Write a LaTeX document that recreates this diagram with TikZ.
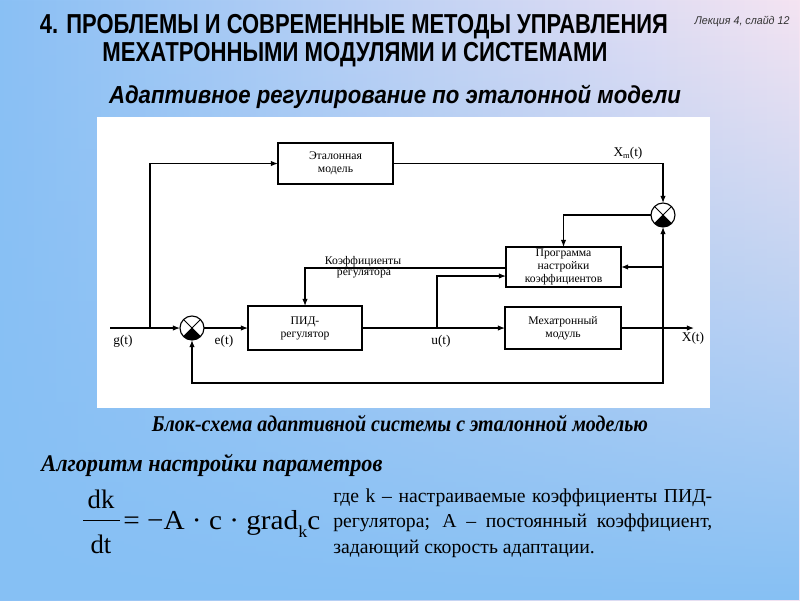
\documentclass[tikz,border=0pt]{standalone}
\usepackage{fontspec}
\usepackage{graphicx}
\setmainfont{Liberation Serif}
\newfontfamily\sansf{Liberation Sans}
\usetikzlibrary{arrows.meta,fadings,calc}
\definecolor{bgL}{HTML}{8AC0F5}
\definecolor{bgR}{HTML}{F5E4F2}
\definecolor{bgB}{HTML}{86C0F4}
\newlength\pxu
\setlength\pxu{0.025cm}
\begin{document}
\begin{tikzpicture}[x=0.025cm,y=-0.025cm,
  wire/.style={line width=0.8pt},
  conn/.style={wire,-{Latex[length=5pt,width=3.8pt]}},
  blk/.style={draw,line width=0.75pt,inner sep=0pt,outer sep=0pt,align=center,font=\fontsize{8.3}{9.3}\selectfont},
  sumj/.style={circle,draw,line width=0.8pt,minimum size=0.6cm,inner sep=0pt,outer sep=0pt},
  lbl/.style={font=\fontsize{9.5}{11}\selectfont,inner sep=0pt},
  small/.style={font=\fontsize{8.3}{9}\selectfont,inner sep=0pt}]

\useasboundingbox (0,0) rectangle (800,600);
% background
\fill[left color=bgL, right color=bgR] (0,0) rectangle (800,600);
\fill[bgB, path fading=north] (0,0) rectangle (800,600);
\fill[white] (97,117) rectangle (710,408);

% titles
\node[font=\sansf\bfseries\fontsize{19.5}{22}\selectfont] (t1) at (354,27) {\resizebox{628\pxu}{\height}{4. ПРОБЛЕМЫ И СОВРЕМЕННЫЕ МЕТОДЫ УПРАВЛЕНИЯ}};
\node[font=\sansf\bfseries\fontsize{19.5}{22}\selectfont] (t2) at (355,55) {\resizebox{505\pxu}{\height}{МЕХАТРОННЫМИ МОДУЛЯМИ И СИСТЕМАМИ}};
\node[font=\sansf\itshape\fontsize{8}{9}\selectfont, text=black!80] (lec) at (742,21) {\resizebox{95\pxu}{\height}{Лекция 4, слайд 12}};
\node[font=\sansf\bfseries\itshape\fontsize{17.5}{20}\selectfont] (sub) at (395,97) {\resizebox{572\pxu}{\height}{Адаптивное регулирование по эталонной модели}};

% blocks
\node[blk,minimum width=2.875cm,minimum height=1.025cm] (etal) at (335.5,163.5) {Эталонная\\модель};
\node[blk,minimum width=2.875cm,minimum height=1.0cm] (prog) at (563.5,267) {Программа\\настройки\\коэффициентов};
\node[blk,minimum width=2.85cm,minimum height=1.1cm] (pid) at (305,328) {ПИД-\\регулятор};
\node[blk,minimum width=2.9cm,minimum height=1.05cm] (mech) at (563,328) {Мехатронный\\модуль};
\node[sumj] (s1) at (192,328) {};
\node[sumj] (s2) at (663,215) {};

\foreach \sj in {s1,s2}{
  \fill (\sj.center) \foreach \a in {-135,-125,...,-45}{ -- (\sj.\a)} -- cycle;
  \draw[line width=0.6pt] (\sj.45) -- (\sj.-135) (\sj.135) -- (\sj.-45);
}

% coordinates
\coordinate (gin) at (110,328);
\coordinate (j1) at (150,328);
\coordinate (ju) at (437,328);
\coordinate (jr) at (663,328);
\coordinate (fbr) at (663,383);
\coordinate (xout) at (694,328);

% connectors
\draw[wire] (gin) -- (j1);
\draw[conn] (j1) -- (s1.west);
\draw[conn] (j1) |- (etal.west);
\draw[conn] (etal.east) -| (s2.north);
\draw[conn] (s1.east) -- (pid.west);
\draw[conn] (pid.east) -- (mech.west);
\draw[conn] (mech.east) -- (xout);
\draw[conn] (ju) |- ($(prog.west)+(0,9)$);
\draw[conn] ($(prog.west)+(0,1)$) -| (pid.north);
\draw[conn] (s2.west) -| (prog.north);
\draw[conn] (jr) -- (s2.south);
\draw[conn] (s2.south |- prog.east) -- (prog.east);
\draw[conn] (jr) -- (fbr) -| (s1.south);

% labels
\node[lbl] (lg) at (123,341) {g(t)};
\node[lbl] (le) at (224,341) {e(t)};
\node[lbl] (lu) at (441,341) {u(t)};
\node[lbl] (lx) at (693,338) {X(t)};
\node[lbl] (lxm) at (628,153) {X\raisebox{-0.35ex}{\fontsize{6}{6}\selectfont m}(t)};
\node[small] (lk1) at (363,262) {Коэффициенты};
\node[small] (lk2) at (364,274) {регулятора};

% caption and heading
\node[font=\bfseries\itshape\fontsize{16}{19}\selectfont] (cap) at (400,424) {\resizebox{496\pxu}{\height}{Блок-схема адаптивной системы с эталонной моделью}};
\node[font=\bfseries\itshape\fontsize{17}{20}\selectfont] (alg) at (212,465) {\resizebox{341\pxu}{\height}{Алгоритм настройки параметров}};

% formula
\node[font=\fontsize{19}{22}\selectfont, anchor=base, inner sep=0pt] (dk) at (101,508) {dk};
\node[font=\fontsize{19}{22}\selectfont, anchor=base, inner sep=0pt] (dt) at (101,553) {dt};
\draw[line width=0.6pt] (83,520) -- (120,520);
\node[font=\fontsize{19.5}{22}\selectfont, anchor=base west, inner sep=0pt] (rhs) at (123,529) {\resizebox{197\pxu}{\height}{= −A · c · grad\raisebox{-0.3em}{\fontsize{12}{12}\selectfont k}c}};

% paragraph
\node[font=\fontsize{14}{18}\selectfont, anchor=base west, inner sep=0pt] (p1) at (333,502) {\makebox[379\pxu][s]{где k – настраиваемые коэффициенты ПИД-}};
\node[font=\fontsize{14}{18}\selectfont, anchor=base west, inner sep=0pt] (p2) at (333,527) {\makebox[379\pxu][s]{регулятора; А – постоянный коэффициент,}};
\node[font=\fontsize{14}{18}\selectfont, anchor=base west, inner sep=0pt] (p3) at (333,553) {задающий скорость адаптации.};
\end{tikzpicture}
\end{document}
